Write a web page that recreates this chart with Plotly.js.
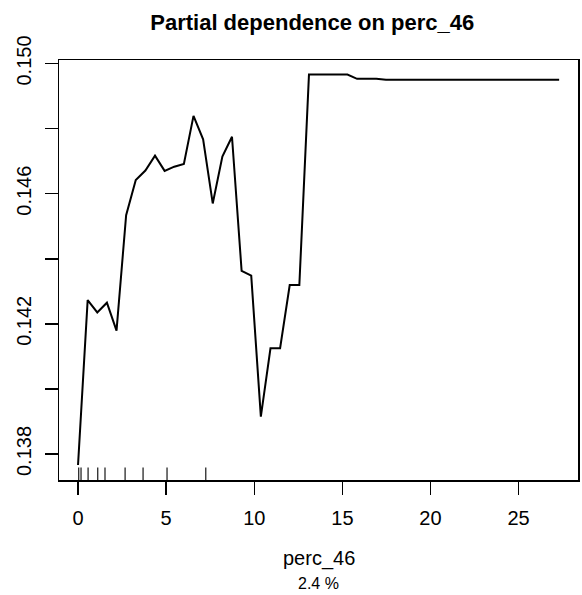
<!DOCTYPE html>
<html>
<head>
<meta charset="utf-8">
<script src="https://cdn.plot.ly/plotly-3.0.1.min.js"></script>
<style>
html,body{margin:0;padding:0;background:#fff;}
#chart{width:582px;height:595px;}
</style>
</head>
<body>
<div id="chart"></div>
<script>
// Partial dependence values
var xVals = [0, 0.546, 1.092, 1.638, 2.184, 2.73, 3.276, 3.822, 4.368, 4.914,
  5.46, 6.006, 6.552, 7.098, 7.644, 8.19, 8.736, 9.282, 9.828, 10.374,
  10.92, 11.466, 12.012, 12.558, 13.104, 13.65, 14.196, 14.742, 15.288, 15.834,
  16.38, 16.926, 17.472, 18.018, 18.564, 19.11, 19.656, 20.202, 20.748, 21.294,
  21.84, 22.386, 22.932, 23.478, 24.024, 24.57, 25.116, 25.662, 26.208, 26.754, 27.3];
var yVals = [0.13766, 0.14273, 0.14235, 0.14265, 0.14179, 0.14534, 0.14642, 0.14671, 0.14717, 0.14670,
  0.14683, 0.14691, 0.14839, 0.14767, 0.14570, 0.14714, 0.14775, 0.14363, 0.14348, 0.13915,
  0.14125, 0.14125, 0.14319, 0.14319, 0.14966, 0.14966, 0.14966, 0.14966, 0.14966, 0.14953,
  0.14953, 0.14953, 0.14950, 0.14950, 0.14950, 0.14950, 0.14950, 0.14950, 0.14950, 0.14950,
  0.14950, 0.14950, 0.14950, 0.14950, 0.14950, 0.14950, 0.14950, 0.14950, 0.14950, 0.14950, 0.14950];
// Rug (deciles of perc_46)
var rugVals = [0.04, 0.17, 0.57, 1.12, 1.53, 2.67, 3.69, 5.05, 7.25];
// Tick labels
var xTickVals = [0, 5, 10, 15, 20, 25];
var yTickVals = [0.138, 0.140, 0.142, 0.144, 0.146, 0.148, 0.150];
var yTickText = ['0.138', '', '0.142', '', '0.146', '', '0.150'];

var FONT = 'Liberation Sans, Arial, Helvetica, sans-serif';

var trace = {
  x: xVals, y: yVals, type: 'scatter', mode: 'lines',
  line: {color: '#000', width: 2}, hoverinfo: 'skip'
};

var shapes = rugVals.map(function(v){
  return {type: 'line', xref: 'x', yref: 'paper', x0: v, x1: v, y0: 0, y1: 0.03,
          line: {color: '#000', width: 1.1}};
});

var layout = {
  width: 582, height: 595,
  margin: {l: 59, r: 4, t: 60, b: 115},
  paper_bgcolor: '#fff', plot_bgcolor: '#fff',
  showlegend: false,
  font: {family: FONT, color: '#000'},
  title: {text: '<b>Partial dependence on perc_46</b>', font: {family: FONT, size: 22, color: '#000'},
          x: 0.488, xref: 'paper', xanchor: 'center', y: 1 - 22/595, yref: 'container', yanchor: 'middle'},
  xaxis: {
    range: [-1.08, 28.37], tickvals: xTickVals, ticktext: xTickVals.map(String),
    ticks: 'outside', ticklen: 13, tickwidth: 1.5, tickcolor: '#000',
    showline: true, mirror: true, linecolor: '#000', linewidth: 1.5,
    showgrid: false, zeroline: false, tickfont: {family: FONT, size: 20, color: '#000'},
    ticklabelstandoff: 6
  },
  yaxis: {
    range: [0.137201, 0.150108], tickvals: yTickVals, ticktext: yTickText,
    ticks: 'outside', ticklen: 13, tickwidth: 1.5, tickcolor: '#000',
    showline: true, mirror: true, linecolor: '#000', linewidth: 1.5,
    showgrid: false, zeroline: false, tickangle: -90,
    tickfont: {family: FONT, size: 20, color: '#000'},
    ticklabelstandoff: 6
  },
  shapes: shapes,
  annotations: [
    {text: 'perc_46', xref: 'paper', yref: 'paper', x: 0.5, y: -(558 - 480)/420, xanchor: 'center', yanchor: 'middle',
     showarrow: false, font: {family: FONT, size: 20, color: '#000'}},
    {text: '2.4 %', xref: 'paper', yref: 'paper', x: 0.5, y: -(583 - 480)/420, xanchor: 'center', yanchor: 'middle',
     showarrow: false, font: {family: FONT, size: 16, color: '#000'}}
  ]
};

Plotly.newPlot('chart', [trace], layout, {staticPlot: true, displayModeBar: false});
</script>
</body>
</html>
